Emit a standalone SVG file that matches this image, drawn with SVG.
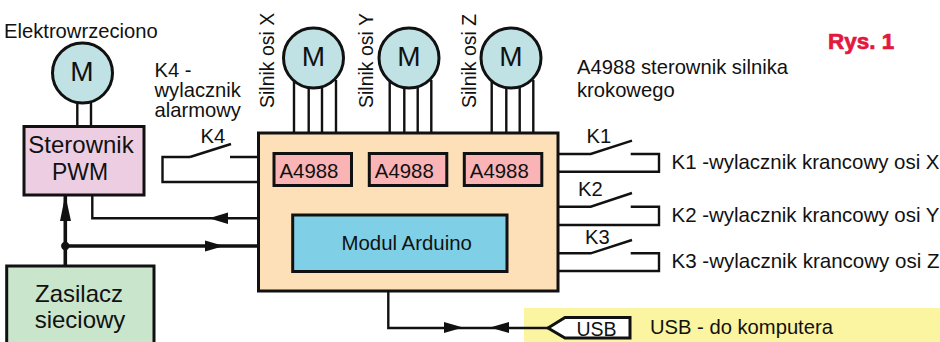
<svg xmlns="http://www.w3.org/2000/svg" width="940" height="342" viewBox="0 0 940 342">
<style>
text{font-family:"Liberation Sans",Arial,sans-serif;fill:#111}
.b{stroke:#111;stroke-width:3}
.w{fill:none;stroke:#111;stroke-width:2.4}
.w4{fill:none;stroke:#111;stroke-width:3.6}
.ah{fill:#111;stroke:none}
.m{fill:#c0e2e4}
.a{fill:#fab4b6}
.t{font-size:20.2px}
.r{font-size:19.5px}
.big{font-size:24px;text-anchor:middle}
.chip{font-size:20.4px}
.mt{font-size:28px;text-anchor:middle}
</style>
<rect x="524" y="308" width="416" height="34" fill="#fbf4a0"/>
<g id="connectors">
<path class="w" d="M77.3 103V127M91 103V127"/>
<path class="w" d="M259 157H230M190 157H162.500V182H259"/>
<path class="w" d="M190 157L231 144"/>
<path class="w" d="M92.300 195V218.300H259"/>
<path class="ah" d="M209 218.300L228 212.500V224Z"/>
<path class="w4" d="M65.300 266V195"/>
<path class="ah" d="M65.300 195L71 221H60Z"/>
<path class="w4" d="M65.300 246H259"/>
<path class="ah" d="M205 240.500L224 246L205 251.500Z"/>
<circle class="ah" cx="65.300" cy="246" r="4.200"/>
<path class="w" d="M294 80V154M308.700 86V154M322 86V154M336 80V154"/>
<path class="w" d="M389.700 80V154M404.300 86V154M417.700 86V154M431.300 80V154"/>
<path class="w" d="M491.700 80V154M506.300 86V154M519.700 86V154M533.300 80V154"/>
<path class="w" d="M558 154H590.700L632 140.700M630.700 154H659V171.700H558"/>
<path class="w" d="M558 206.700H590.700L632 193M630.700 206.700H659V225H558"/>
<path class="w" d="M558 253.300H590.700L632 240M630.700 253.300H659V271H558"/>
<path class="w" d="M388.300 291V328H548"/>
<path class="ah" d="M444 322L463 327.500L444 333Z"/>
<path class="ah" d="M509 322V333L490 327.500Z"/>
</g>
<g id="motor-spindle"><circle class="b m" cx="82.500" cy="73" r="30"/><text class="mt" x="82" y="80.500">M</text></g>
<g id="motor-x"><circle class="b m" cx="313.500" cy="58" r="30"/><text class="mt" x="313.500" y="65.500">M</text></g>
<g id="motor-y"><circle class="b m" cx="409" cy="58" r="30"/><text class="mt" x="409" y="65.500">M</text></g>
<g id="motor-z"><circle class="b m" cx="511" cy="58" r="30"/><text class="mt" x="511" y="65.500">M</text></g>
<g id="pwm"><rect class="b" x="24" y="126.500" width="120" height="68.500" fill="#eccde2"/>
<text class="big" x="81" y="153">Sterownik</text>
<text class="big" x="80" y="180" textLength="56" lengthAdjust="spacingAndGlyphs">PWM</text></g>
<g id="psu"><rect class="b" x="6.700" y="266" width="147.300" height="90" fill="#c9e5cb"/>
<text class="big" x="79" y="302">Zasilacz</text>
<text class="big" x="80" y="328">sieciowy</text></g>
<g id="board"><rect class="b" x="258.500" y="133" width="299.500" height="158" fill="#fde0b8"/></g>
<g id="a4988-x"><rect class="b a" x="274" y="153.500" width="77.500" height="32"/><text class="chip" x="279.500" y="177.500">A4988</text></g>
<g id="a4988-y"><rect class="b a" x="369.300" y="153.500" width="77.500" height="32"/><text class="chip" x="374.800" y="177.500">A4988</text></g>
<g id="a4988-z"><rect class="b a" x="464.300" y="153.500" width="77.500" height="32"/><text class="chip" x="469.800" y="177.500">A4988</text></g>
<g id="arduino"><rect class="b" x="292.700" y="215" width="214.300" height="56.500" fill="#7fd0e6"/><text x="341.500" y="250" style="font-size:20.4px">Modul Arduino</text></g>
<g id="usb"><path d="M548 328L565 317.500H630V338H565Z" fill="#fff" stroke="#111" stroke-width="3"/><text x="576.500" y="335.500" style="font-size:19.500px">USB</text></g>
<g id="labels">
<text class="t" x="4" y="38">Elektrowrzeciono</text>
<text class="t" x="154.500" y="76.500">K4 -</text>
<text class="t" x="154.500" y="96.800">wylacznik</text>
<text class="t" x="154.500" y="117.100">alarmowy</text>
<text class="t" x="200.500" y="143">K4</text>
<text class="r" transform="translate(274 108) rotate(-90)">Silnik osi X</text>
<text class="r" transform="translate(373 108) rotate(-90)">Silnik osi Y</text>
<text class="r" transform="translate(476 108) rotate(-90)">Silnik osi Z</text>
<text class="t" x="577" y="74">A4988 sterownik silnika</text>
<text class="t" x="577" y="97">krokowego</text>
<text x="828" y="49" style="font-size:22.500px;font-weight:bold;fill:#e2183f;stroke:#e2183f;stroke-width:.7">Rys. 1</text>
<text class="t" x="586.500" y="143">K1</text>
<text class="t" x="578" y="196">K2</text>
<text class="t" x="585" y="244">K3</text>
<text class="t" x="671.500" y="169" textLength="268" lengthAdjust="spacingAndGlyphs">K1 -wylacznik krancowy osi X</text>
<text class="t" x="671.500" y="222" textLength="268" lengthAdjust="spacingAndGlyphs">K2 -wylacznik krancowy osi Y</text>
<text class="t" x="671.500" y="268" textLength="268" lengthAdjust="spacingAndGlyphs">K3 -wylacznik krancowy osi Z</text>
<text class="t" x="650" y="333.500">USB - do komputera</text>
</g>
</svg>
